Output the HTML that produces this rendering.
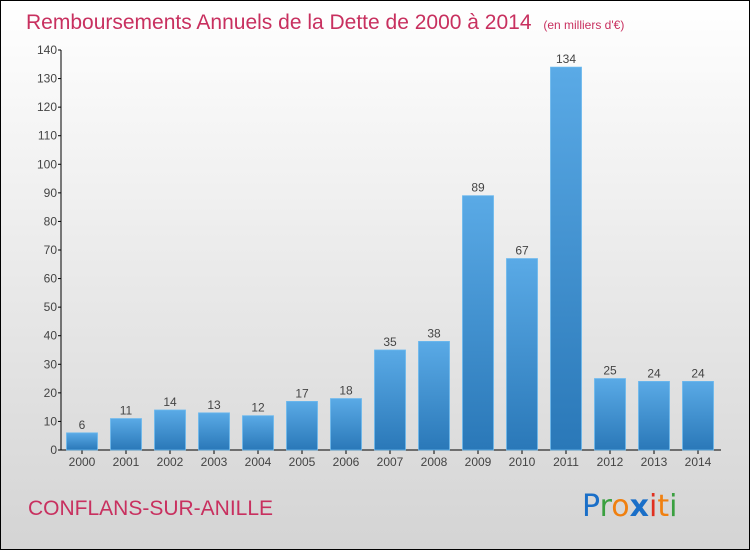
<!DOCTYPE html>
<html><head><meta charset="utf-8"><style>
body{margin:0;}
#c{width:750px;height:550px;position:relative;font-family:"Liberation Sans",sans-serif;}
</style></head><body>
<div id="c">
<svg width="750" height="550" xmlns="http://www.w3.org/2000/svg" font-family="Liberation Sans, sans-serif">
<defs>
<linearGradient id="bg" x1="0" y1="0" x2="0" y2="1"><stop offset="0" stop-color="#ffffff"/><stop offset="1" stop-color="#d4d4d4"/></linearGradient>
<linearGradient id="bar" x1="0" y1="0" x2="0" y2="1"><stop offset="0" stop-color="#5aaae6"/><stop offset="1" stop-color="#2a78b8"/></linearGradient>
</defs>
<rect x="0.5" y="0.5" width="749" height="549" fill="url(#bg)" stroke="#000"/>
<text x="26" y="29" font-size="21" fill="#c8305f">Remboursements Annuels de la Dette de 2000 à 2014 <tspan font-size="12" dx="6">(en milliers d'€)</tspan></text>
<g id="axes"></g>
<g id="bars"></g>
<text x="28" y="515" font-size="21" fill="#c8305f">CONFLANS-SUR-ANILLE</text>
<g font-size="30" font-family="DejaVu Sans, sans-serif">
<text x="582" y="516"><tspan fill="#1a6fc8">P</tspan><tspan fill="#3aa040">r</tspan><tspan fill="#f08010">o</tspan><tspan fill="#1a6fc8" font-weight="bold">x</tspan><tspan fill="#e03020">i</tspan><tspan fill="#f08010">t</tspan><tspan fill="#3aa040">i</tspan></text>
</g>
</svg>
</div>
<script>
const years=["2000","2001","2002","2003","2004","2005","2006","2007","2008","2009","2010","2011","2012","2013","2014"];
const values=[6,11,14,13,12,17,18,35,38,89,67,134,25,24,24];
const yTicks=[0,10,20,30,40,50,60,70,80,90,100,110,120,130,140];
const NS="http://www.w3.org/2000/svg";
const y0=450,yTop=50,yMax=140;
function yS(v){return y0-(v/yMax)*(y0-yTop);}
function xS(i){return 82+i*44;}
function mk(t,a,p){const e=document.createElementNS(NS,t);for(const k in a)e.setAttribute(k,a[k]);p.appendChild(e);return e;}
const ax=document.getElementById('axes'),bg=document.getElementById('bars');
const yl=mk('line',{x1:61,y1:yTop,x2:61,y2:y0,stroke:'#000'},ax);


const xl=mk('line',{x1:61,y1:y0,x2:721,y2:y0,stroke:'#000'},ax);


yTicks.forEach(v=>{
 mk('line',{x1:58,x2:61,y1:yS(v),y2:yS(v),stroke:'#000'},ax);
 const t=mk('text',{x:57,y:yS(v)+4,'text-anchor':'end','font-size':12,fill:'#444'},ax);
 t.textContent=v;
 
 
});
years.forEach((yr,i)=>{
 const cx=xS(i),v=values[i];
 mk('line',{x1:cx,x2:cx,y1:y0,y2:y0+4,stroke:'#000'},ax);
 const t=mk('text',{x:cx,y:y0+16,'text-anchor':'middle','font-size':12,fill:'#444'},ax);
 t.textContent=yr;
 
 
 const r=mk('rect',{x:cx-15.5,y:yS(v),width:31,height:y0-yS(v),fill:'url(#bar)',stroke:'#6ab8ee','stroke-width':0.8},bg);
 
 
 const l=mk('text',{x:cx,y:yS(v)-4,'text-anchor':'middle','font-size':12,fill:'#444'},bg);
 l.textContent=v;
 
 
});
</script>
</body></html>
